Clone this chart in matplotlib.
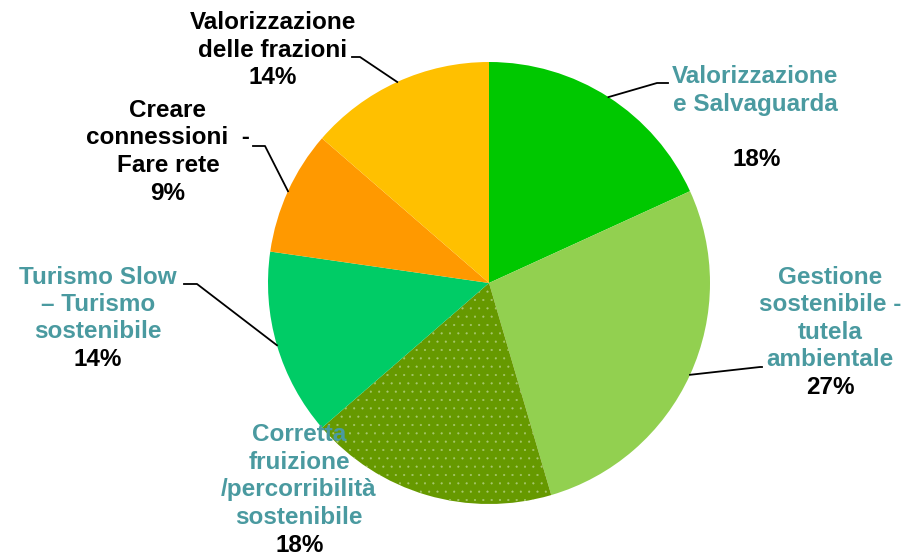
import numpy as np
import matplotlib
matplotlib.use("Agg")
import matplotlib.pyplot as plt

plt.rcParams['font.family'] = ['Liberation Sans', 'DejaVu Sans']
plt.rcParams['hatch.linewidth'] = 0.3

# data: counts per theme (clockwise from 12 o'clock)
labels = ["Valorizzazione\ne Salvaguarda",
          "Gestione\nsostenibile -\ntutela\nambientale",
          "Corretta\nfruizione\n/percorribilità\nsostenibile",
          "Turismo Slow\n– Turismo\nsostenibile",
          "Creare\nconnessioni  -\nFare rete",
          "Valorizzazione\ndelle frazioni"]
values = [4, 6, 4, 3, 2, 3]
colors = ["#00C800", "#92D050", "#669900", "#00CC66", "#FF9900", "#FFC000"]
label_colors = ["#4A9AA0", "#4A9AA0", "#4A9AA0", "#4A9AA0", "black", "black"]

W, H = 904, 555
fig = plt.figure(figsize=(W / 100, H / 100), dpi=100)
ax = fig.add_axes([0, 0, 1, 1])

cx, cy, r = 489, H - 283, 221
wedges, _ = ax.pie(values, colors=colors, startangle=90, counterclock=False,
                   center=(cx, cy), radius=r, frame=True,
                   wedgeprops=dict(linewidth=0))
ax.set_xlim(0, W)
ax.set_ylim(0, H)
ax.set_aspect('equal')
ax.axis('off')

# dotted fill on the olive slice
wedges[2].set_hatch('..')
wedges[2].set_edgecolor('#A8C870')
try:
    wedges[2].set_hatchcolor('#A8C870')
except AttributeError:
    pass

# label layout (pixel coords from top-left)
label_pos = [(755, 90.5), (830, 318.5), (299, 476), (98, 304.5), (168, 138), (273, 36.5)]
pct_pos = [(757, 160), (830, 387), (300, 545), (98, 359), (168, 193), (273, 77)]
leaders = [[(657, 83), (668, 83)], [(760, 367), (762, 367)], None,
           [(197, 284), (184, 284)], [(265, 146), (253, 146)], [(360, 57), (352, 57)]]

total = sum(values)
for i, w in enumerate(wedges):
    mid = np.deg2rad((w.theta1 + w.theta2) / 2)
    if leaders[i] is not None:
        xs = [cx + r * np.cos(mid)] + [p[0] for p in leaders[i]]
        ys = [cy + r * np.sin(mid)] + [H - p[1] for p in leaders[i]]
        ax.plot(xs, ys, color='black', lw=1.3, zorder=3)
    lx, ly = label_pos[i]
    ax.text(lx, H - ly, labels[i], ha='center', va='center', multialignment='center',
            fontsize=17.5, fontweight='bold', color=label_colors[i], linespacing=1.25, zorder=4)
    px, py = pct_pos[i]
    ax.text(px, H - py, f"{values[i] / total * 100:.0f}%", ha='center', va='center',
            fontsize=17.5, fontweight='bold', color='black', zorder=4)

fig.savefig("out.png", dpi=100)
